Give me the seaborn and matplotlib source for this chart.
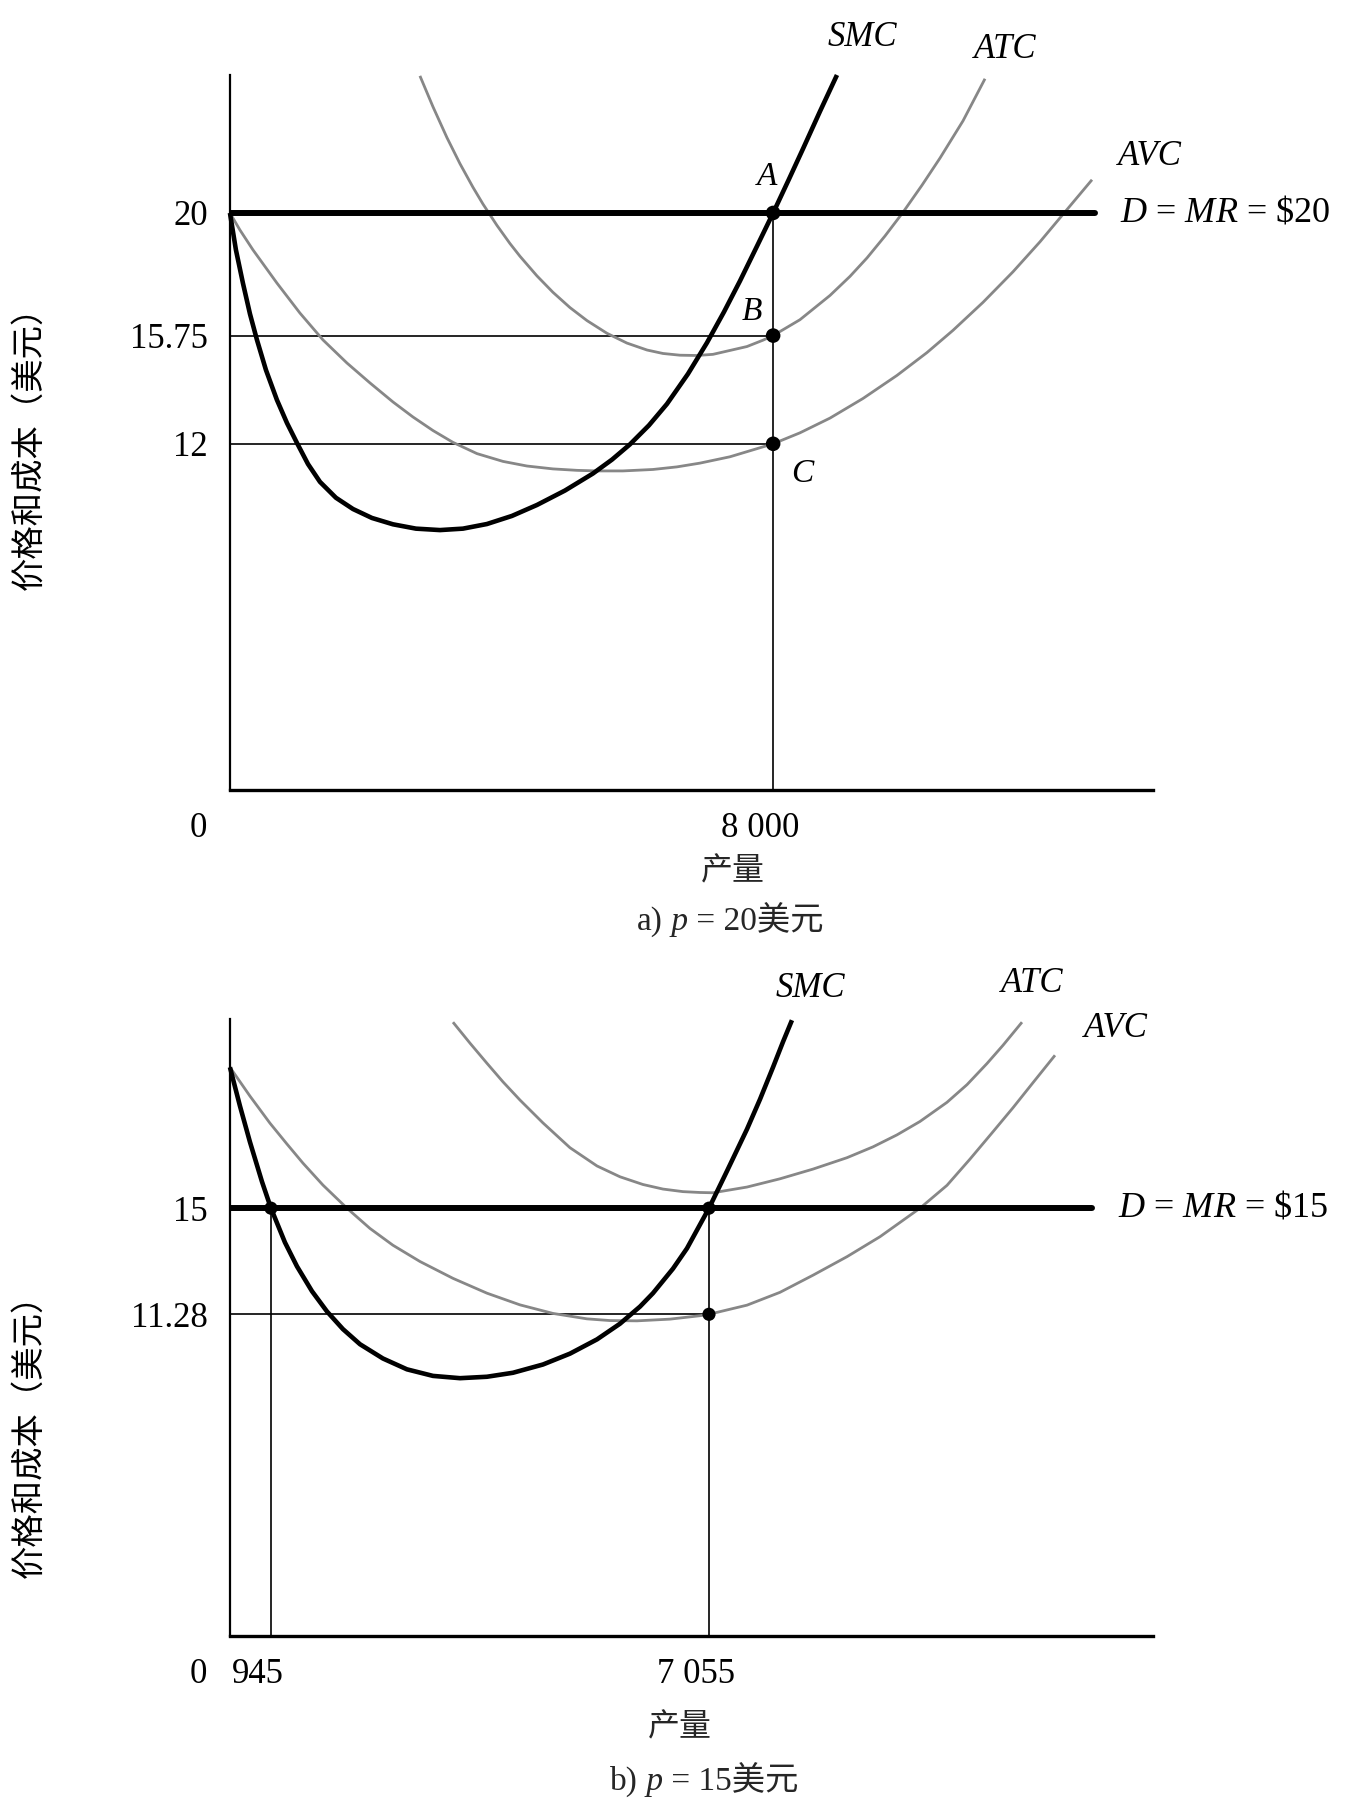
import matplotlib
matplotlib.use("Agg")
import numpy as np
import matplotlib.pyplot as plt
import matplotlib.transforms as mtransforms
import seaborn as sns

# ---- panel a: p = 20 ----
q_smc_a = [0, 88, 191, 295, 398, 530, 692, 840, 987, 1149, 1326, 1561, 1812, 2091, 2401, 2739, 3093, 3432,
           3785, 4153, 4522, 4934, 5346, 5626, 5891, 6171, 6436, 6745, 7025, 7276, 7511, 7777, 8000, 8233,
           8439, 8690, 8940]
p_smc_a = [20.0, 18.72, 17.57, 16.50, 15.60, 14.56, 13.52, 12.72, 12.03, 11.30, 10.68, 10.13, 9.74, 9.43,
           9.21, 9.06, 9.01, 9.06, 9.22, 9.50, 9.88, 10.38, 10.97, 11.45, 11.98, 12.64, 13.38, 14.42, 15.50,
           16.57, 17.64, 18.92, 20.0, 21.17, 22.22, 23.52, 24.78]
q_atc_a = [2798, 2990, 3196, 3387, 3579, 3726, 3932, 4124, 4271, 4521, 4757, 5008, 5258, 5552, 5847, 6142,
           6377, 6628, 6878, 7114, 7614, 7850, 8000, 8395, 8837, 9131, 9382, 9647, 9912, 10192, 10457, 10796,
           11120]
p_atc_a = [24.75, 23.68, 22.61, 21.71, 20.89, 20.31, 19.57, 18.94, 18.50, 17.82, 17.25, 16.72, 16.27, 15.83,
           15.49, 15.25, 15.13, 15.07, 15.06, 15.10, 15.37, 15.59, 15.75, 16.30, 17.14, 17.80, 18.44, 19.20,
           20.02, 20.96, 21.90, 23.19, 24.65]
q_avc_a = [0, 147, 339, 692, 1031, 1370, 1723, 2062, 2401, 2695, 2990, 3284, 3638, 4021, 4374, 4757, 5111,
           5405, 5788, 6230, 6583, 6922, 7364, 8000, 8395, 8837, 9323, 9824, 10265, 10648, 11090, 11532,
           11930, 12268, 12696]
p_avc_a = [20.0, 19.41, 18.72, 17.57, 16.53, 15.60, 14.80, 14.11, 13.45, 12.93, 12.46, 12.05, 11.66, 11.39,
           11.23, 11.13, 11.08, 11.06, 11.06, 11.11, 11.20, 11.33, 11.55, 12.0, 12.38, 12.89, 13.57, 14.37,
           15.16, 15.93, 16.90, 17.96, 19.0, 19.95, 21.15]
price_a = 20
demand_end_a = 12740
q_star_a = 8000
levels_a = [15.75, 12]
yticks_a = [20, 15.75, 12]
ytick_labels_a = ["20", "15.75", "12"]
xticks_a = [0, 8000]
xtick_labels_a = ["0", "8 000"]

# ---- panel b: p = 15 ----
q_smc_b = [0, 231, 461, 738, 945, 1140, 1308, 1517, 1726, 1949, 2187, 2507, 2842, 3205, 3582, 3958, 4321,
           4740, 5116, 5493, 5814, 6093, 6274, 6553, 6748, 7055, 7320, 7615, 7807, 7998, 8145, 8277]
p_smc_b = [19.94, 18.58, 17.32, 15.93, 15.0, 13.80, 12.96, 12.09, 11.38, 10.76, 10.23, 9.73, 9.35, 9.12,
           9.04, 9.09, 9.23, 9.52, 9.90, 10.40, 10.95, 11.55, 12.02, 12.88, 13.59, 15.0, 16.30, 17.77, 18.82,
           19.94, 20.83, 21.59]
q_atc_b = [3484, 3723, 3958, 4181, 4419, 4739, 5116, 5493, 5814, 6134, 6413, 6692, 6930, 7114, 7614, 8101,
           8587, 9088, 9471, 9824, 10163, 10560, 10855, 11149, 11385, 11665]
p_atc_b = [21.52, 20.78, 20.08, 19.43, 18.79, 17.99, 17.12, 16.48, 16.10, 15.83, 15.67, 15.58, 15.55, 15.54,
           15.74, 16.03, 16.37, 16.77, 17.15, 17.57, 18.04, 18.71, 19.33, 20.07, 20.71, 21.52]
q_avc_b = [0, 461, 922, 1168, 1391, 1670, 2005, 2326, 2647, 3024, 3484, 3958, 4419, 4879, 5353, 5674, 6051,
           6511, 6930, 7055, 7615, 8101, 8587, 9088, 9574, 10163, 10560, 10899, 11238, 11532, 11827, 12151]
p_avc_b = [19.94, 18.93, 17.98, 17.25, 16.58, 15.81, 15.0, 14.29, 13.70, 13.13, 12.54, 12.02, 11.61, 11.31,
           11.12, 11.06, 11.05, 11.11, 11.23, 11.28, 11.60, 12.05, 12.65, 13.30, 14.0, 15.0, 15.80, 16.72,
           17.68, 18.52, 19.40, 20.36]
price_b = 15
demand_end_b = 12695
q_low_b = 945
q_star_b = 7055
avc_level_b = 11.28
yticks_b = [15, 11.28]
ytick_labels_b = ["15", "11.28"]
xticks_b = [0, 945, 7055]
xtick_labels_b = ["0", "945", "7 055"]
# the lower panel's quantity axis is drawn out of proportion near the origin
scale_q_b = [0, 945, 7055, 50000]
scale_pos_b = [0, 604, 7055, 50000]

sns.set_theme(style="white")
plt.rcParams["font.family"] = ["Liberation Serif", "Noto Sans CJK SC"]
plt.rcParams["mathtext.fontset"] = "custom"
plt.rcParams["mathtext.rm"] = "Liberation Serif"
plt.rcParams["mathtext.it"] = "Liberation Serif:italic"

GRAY = "#878787"
SERIF = "Liberation Serif"
CJK = ["Noto Sans CJK SC", "DejaVu Sans"]
MIXED = ["Liberation Serif", "Noto Sans CJK SC"]

fig = plt.figure(figsize=(13.59, 18.03), dpi=100)
ax_a = fig.add_axes([0.1692, 0.5618, 0.6792, 0.3966])
ax_b = fig.add_axes([0.1692, 0.0926, 0.6792, 0.3422])


def style_axes(ax, ymax, xticks, xlabels, yticks, ylabels):
    ax.set_xlim(0, 13594)
    ax.set_ylim(0, ymax)
    sns.despine(ax=ax)
    ax.spines["left"].set_color("black")
    ax.spines["left"].set_linewidth(1.6)
    ax.spines["bottom"].set_color("black")
    ax.spines["bottom"].set_linewidth(2.4)
    ax.set_xticks(xticks)
    ax.set_xticklabels(xlabels, fontfamily=SERIF, fontsize=25)
    ax.set_yticks(yticks)
    ax.set_yticklabels(ylabels, fontfamily=SERIF, fontsize=25)
    ax.tick_params(length=0, pad=16, colors="black")
    for lab in ax.get_xticklabels():
        dx = -0.32 if lab.get_text() == "0" else -0.13
        lab.set_transform(lab.get_transform() + mtransforms.ScaledTranslation(dx, 0, fig.dpi_scale_trans))
    ax.set_ylabel("价格和成本（美元）", fontfamily=CJK, fontsize=24, color="black")
    ax.set_xlabel("")
    ax.grid(False)


def curve(ax, q, p, color, lw):
    sns.lineplot(x=q, y=p, ax=ax, color=color, linewidth=lw, sort=False, estimator=None)
    ax.lines[-1].set_clip_on(False)
    ax.lines[-1].set_solid_capstyle("butt")
    ax.lines[-1].set_solid_joinstyle("round")


def label(ax, text, xy, off, size=25, ha="center"):
    ax.annotate(text, xy=xy, xytext=off, textcoords="offset pixels", ha=ha, va="center",
                fontsize=size, fontfamily=SERIF, style="italic", color="black", annotation_clip=False)


def caption(x, y, letter, price):
    t1 = fig.text(x, y, letter + ")", fontsize=24, fontfamily=SERIF, ha="left", va="baseline")
    t2 = ax_b.annotate(" p", xy=(1, 0), xycoords=t1, ha="left", va="bottom", fontsize=24,
                       fontfamily=SERIF, style="italic", annotation_clip=False)
    ax_b.annotate(" = " + str(price) + "美元", xy=(1, 0), xycoords=t2, ha="left", va="bottom",
                  fontsize=24, fontfamily=MIXED, annotation_clip=False)


# ---------- panel a ----------
ax = ax_a
style_axes(ax, 24.78, xticks_a, xtick_labels_a, yticks_a, ytick_labels_a)
ax.hlines(levels_a, 0, q_star_a, color="black", linewidth=1.2)
ax.vlines(q_star_a, 0, price_a, color="black", linewidth=1.2)
curve(ax, q_atc_a, p_atc_a, GRAY, 2.0)
curve(ax, q_avc_a, p_avc_a, GRAY, 2.0)
sns.lineplot(x=[0, demand_end_a], y=[price_a, price_a], ax=ax, color="black", linewidth=4.3)
curve(ax, q_smc_a, p_smc_a, "black", 3.3)
sns.scatterplot(x=[q_star_a] * 3, y=[price_a] + levels_a, ax=ax, color="black", s=110, edgecolor="none", zorder=5)

label(ax, "SMC", (q_smc_a[-1], p_smc_a[-1]), (25, 38))
label(ax, "ATC", (q_atc_a[-1], p_atc_a[-1]), (20, 29))
label(ax, "AVC", (q_avc_a[-1], p_avc_a[-1]), (58, 23))
label(ax, "A", (q_star_a, price_a), (-6, 36), size=24)
label(ax, "B", (q_star_a, levels_a[0]), (-21, 24), size=24)
label(ax, "C", (q_star_a, levels_a[1]), (29, -30), size=24)
ax.annotate("$D$ = $MR$ = \\$20", xy=(demand_end_a, price_a), xytext=(25, 0), textcoords="offset pixels",
            ha="left", va="center", fontsize=26, fontfamily=SERIF, color="black", annotation_clip=False)
ax.yaxis.set_label_coords(-0.199, 0.49)

# ---------- panel b ----------
ax = ax_b
ax.set_xscale("function", functions=(lambda q: np.interp(q, scale_q_b, scale_pos_b),
                                     lambda v: np.interp(v, scale_pos_b, scale_q_b)))
style_axes(ax, 21.63, xticks_b, xtick_labels_b, yticks_b, ytick_labels_b)
ax.hlines(avc_level_b, 0, q_star_b, color="black", linewidth=1.2)
ax.vlines([q_low_b, q_star_b], 0, price_b, color="black", linewidth=1.2)
curve(ax, q_atc_b, p_atc_b, GRAY, 2.0)
curve(ax, q_avc_b, p_avc_b, GRAY, 2.0)
sns.lineplot(x=[0, demand_end_b], y=[price_b, price_b], ax=ax, color="black", linewidth=4.3)
curve(ax, q_smc_b, p_smc_b, "black", 3.3)
sns.scatterplot(x=[q_low_b, q_star_b, q_star_b], y=[price_b, price_b, avc_level_b], ax=ax,
                color="black", s=90, edgecolor="none", zorder=5)

label(ax, "SMC", (q_smc_b[-1], p_smc_b[-1]), (18, 32))
label(ax, "ATC", (q_atc_b[-1], p_atc_b[-1]), (10, 39))
label(ax, "AVC", (q_avc_b[-1], p_avc_b[-1]), (61, 27))
ax.annotate("$D$ = $MR$ = \\$15", xy=(demand_end_b, price_b), xytext=(26, 0), textcoords="offset pixels",
            ha="left", va="center", fontsize=26, fontfamily=SERIF, color="black", annotation_clip=False)
ax.yaxis.set_label_coords(-0.199, 0.337)

# axis captions under each panel
fig.text(0.5394, 0.5169, "产量", ha="center", va="center", fontsize=23, fontfamily=CJK)
caption(0.4687, 0.4842, "a", price_a)
fig.text(0.5004, 0.0422, "产量", ha="center", va="center", fontsize=23, fontfamily=CJK)
caption(0.449, 0.0072, "b", price_b)

fig.savefig("out.png", dpi=100, facecolor="white")
